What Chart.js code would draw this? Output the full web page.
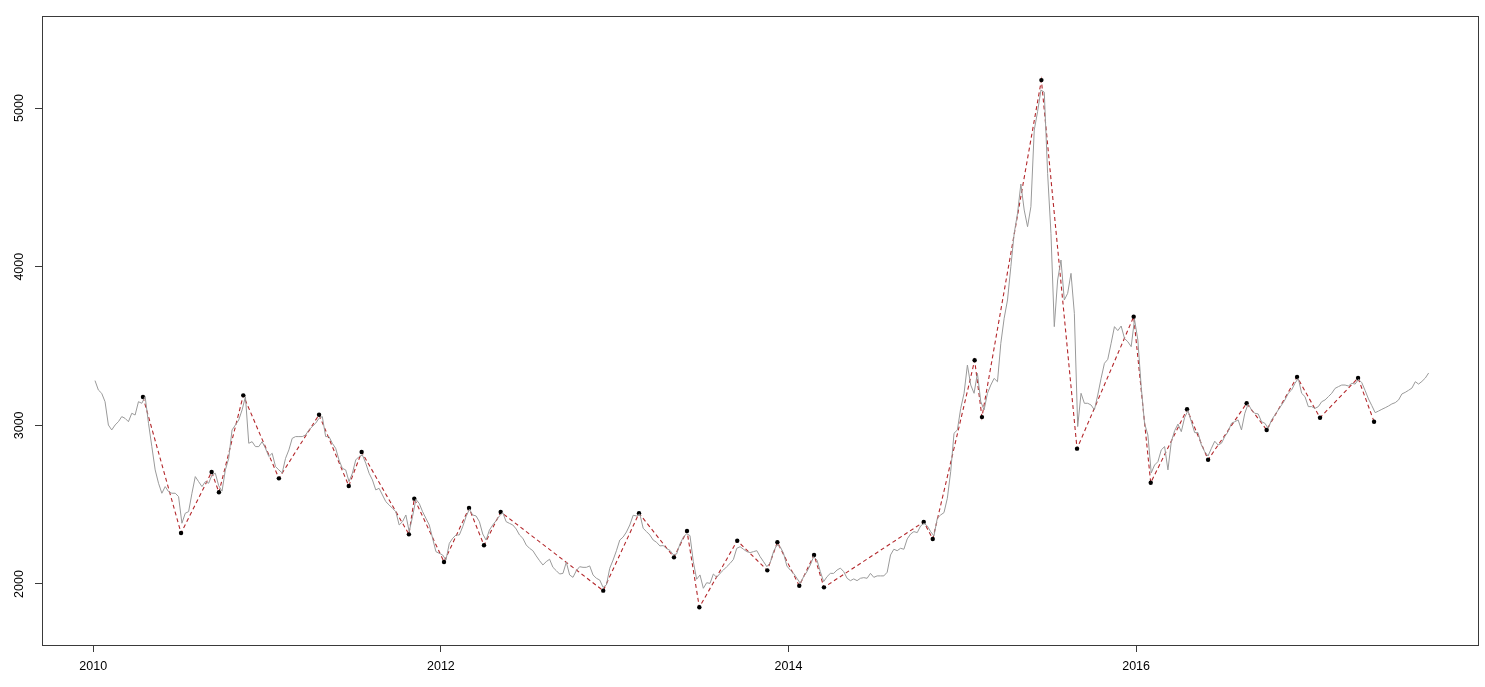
<!DOCTYPE html>
<html>
<head>
<meta charset="utf-8">
<script src="https://cdn.jsdelivr.net/npm/chart.js@4"></script>
<style>
  html, body { margin: 0; padding: 0; background: #fff; }
  #wrap { width: 1485px; height: 687px; position: relative; }
</style>
</head>
<body>
<div id="wrap"><canvas id="chart"></canvas></div>
<script>
// weekly closes (first week of 2010 onwards)
const startYear = 2010.01;
const weekStep = 1 / 52;
const weeklyClose = [
  3282, 3223, 3202, 3149, 3002, 2971, 3002, 3023, 3055, 3044,
  3023, 3076, 3065, 3149, 3139, 3181, 3013, 2866, 2719, 2635,
  2572, 2614, 2582, 2572, 2572, 2551, 2383, 2446, 2456, 2572,
  2677, 2645, 2614, 2645, 2635, 2687, 2698, 2620, 2585, 2719,
  2792, 2971, 3002, 3034, 3097, 3181, 2887, 2897, 2866, 2866,
  2897, 2855, 2803, 2824, 2740, 2719, 2700, 2792, 2845, 2918,
  2929, 2929, 2929, 2939, 2971, 2992, 3013, 3044, 3055, 2929,
  2929, 2887, 2855, 2782, 2729, 2719, 2645, 2698, 2782, 2803,
  2813, 2761, 2698, 2656, 2593, 2603, 2561, 2519, 2498, 2477,
  2456, 2372, 2393, 2435, 2330, 2425, 2534, 2508, 2456, 2414,
  2372, 2288, 2204, 2193, 2183, 2151, 2256, 2288, 2309, 2309,
  2361, 2424, 2471, 2435, 2429, 2393, 2315, 2277, 2340, 2372,
  2399, 2429, 2450, 2393, 2382, 2372, 2347, 2309, 2288, 2246,
  2225, 2210, 2177, 2147, 2120, 2141, 2156, 2105, 2084, 2063,
  2067, 2137, 2057, 2042, 2084, 2109, 2105, 2105, 2114, 2057,
  2036, 2025, 1979, 1994, 2099, 2151, 2210, 2277, 2296, 2328,
  2372, 2433, 2429, 2441, 2351, 2330, 2309, 2277, 2263, 2240,
  2242, 2223, 2212, 2185, 2189, 2252, 2294, 2317, 2305, 2141,
  2030, 2057, 1973, 2008, 2004, 2063, 2042, 2067, 2088, 2109,
  2130, 2155, 2225, 2235, 2219, 2204, 2198, 2204, 2210, 2172,
  2141, 2109, 2134, 2204, 2246, 2235, 2193, 2113, 2088, 2067,
  2036, 2004, 2046, 2078, 2120, 2172, 2151, 2078, 2015, 2046,
  2067, 2067, 2088, 2100, 2078, 2036, 2021, 2032, 2021, 2036,
  2040, 2036, 2067, 2042, 2051, 2051, 2051, 2074, 2183, 2219,
  2210, 2225, 2219, 2284, 2315, 2330, 2324, 2366, 2382, 2366,
  2330, 2303, 2414, 2435, 2450, 2540, 2708, 2950, 2971, 3107,
  3202, 3380, 3254, 3202, 3328, 3150, 3097, 3202, 3254, 3296,
  3275, 3517, 3675, 3790, 4000, 4210, 4336, 4521, 4357, 4252,
  4378, 4861, 4977, 5113, 5100, 4588, 4210, 3622, 3916, 4042,
  3790, 3832, 3958, 3706, 2992, 3202, 3139, 3139, 3128, 3097,
  3191, 3296, 3391, 3416, 3517, 3622, 3597, 3626, 3548, 3527,
  3496, 3668, 3538, 3244, 3013, 2939, 2700, 2750, 2771, 2845,
  2866, 2719, 2897, 2966, 3008, 2960, 3050, 3093, 3023, 2954,
  2954, 2876, 2834, 2807, 2855, 2900, 2876, 2887, 2929, 2960,
  3013, 3023, 3034, 2971, 3076, 3135, 3097, 3076, 3072, 3023,
  3013, 2981, 3034, 3065, 3097, 3128, 3160, 3202, 3223, 3265,
  3296, 3202, 3181, 3118, 3118, 3107, 3118, 3149, 3160, 3181,
  3202, 3233, 3244, 3254, 3254, 3248, 3265, 3260, 3290, 3269,
  3219, 3166, 3124, 3080, 3090, 3101, 3111, 3122, 3135, 3143,
  3160, 3198, 3208, 3221, 3235, 3275, 3260, 3277, 3298, 3330
];

// turning points (black dots joined by the red dashed line)
const turnYears = [
  2010.286, 2010.505, 2010.681, 2010.723, 2010.863, 2011.068, 2011.299,
  2011.470, 2011.544, 2011.816, 2011.847, 2012.018, 2012.162, 2012.248,
  2012.344, 2012.934, 2013.140, 2013.341, 2013.416, 2013.487, 2013.705,
  2013.878, 2013.936, 2014.062, 2014.147, 2014.204, 2014.778, 2014.830,
  2015.071, 2015.113, 2015.455, 2015.660, 2015.986, 2016.084, 2016.293,
  2016.414, 2016.636, 2016.751, 2016.926, 2017.058, 2017.277, 2017.369
];
const turnValues = [
  3179, 2321, 2706, 2578, 3189, 2666, 3067,
  2618, 2832, 2313, 2538, 2139, 2479, 2244,
  2454, 1958, 2446, 2168, 2334, 1853, 2273,
  2086, 2263, 1989, 2183, 1979, 2391, 2284,
  3410, 3052, 5176, 2853, 3685, 2638, 3101,
  2783, 3139, 2971, 3305, 3048, 3298, 3023
];

const xTicks = [2010, 2012, 2014, 2016];
const yTicks = [2000, 3000, 4000, 5000];

const closePoints = weeklyClose.map((v, i) => ({ x: startYear + i * weekStep, y: v }));
const turnPoints = turnYears.map((t, i) => ({ x: t, y: turnValues[i] }));

const axisColor = '#3a3a3a';
const tickFont = { family: '"Liberation Sans", Arial, sans-serif', size: 12.5 };

// R style box round the plot region
const boxPlugin = {
  id: 'box',
  afterDraw(chart) {
    const { ctx, chartArea: a } = chart;
    ctx.save();
    ctx.strokeStyle = axisColor;
    ctx.lineWidth = 1;
    ctx.strokeRect(Math.round(a.left) + 0.5, Math.round(a.top) + 0.5,
      Math.round(a.right - a.left), Math.round(a.bottom - a.top));
    ctx.restore();
  }
};

new Chart(document.getElementById('chart'), {
  type: 'line',
  data: {
    datasets: [
      {
        data: closePoints,
        borderColor: '#9a9a9a',
        borderWidth: 1,
        pointRadius: 0,
        tension: 0
      },
      {
        data: turnPoints,
        borderColor: '#b3272b',
        borderWidth: 1.1,
        borderDash: [4, 3],
        pointRadius: 2.2,
        pointBackgroundColor: '#000',
        pointBorderWidth: 0,
        tension: 0
      }
    ]
  },
  options: {
    responsive: true,
    maintainAspectRatio: false,
    animation: false,
    plugins: { legend: { display: false }, tooltip: { enabled: false } },
    layout: { padding: { top: 16, right: 7, left: 0, bottom: 0 } },
    scales: {
      x: {
        type: 'linear',
        min: 2009.705,
        max: 2017.967,
        afterBuildTicks: s => { s.ticks = xTicks.map(v => ({ value: v })); },
        afterFit: s => { s.height = 42; },
        ticks: {
          callback: v => String(v),
          color: '#000',
          font: tickFont,
          padding: 7,
          maxRotation: 0
        },
        grid: { drawOnChartArea: false, tickLength: 7, color: axisColor },
        border: { color: axisColor }
      },
      y: {
        min: 1615.5,
        max: 5580,
        afterBuildTicks: s => { s.ticks = yTicks.map(v => ({ value: v })); },
        afterFit: s => { s.width = 42; },
        ticks: {
          callback: v => String(v),
          color: '#000',
          font: tickFont,
          minRotation: 90,
          maxRotation: 90,
          crossAlign: 'center',
          padding: 2
        },
        grid: { drawOnChartArea: false, tickLength: 7, color: axisColor },
        border: { color: axisColor }
      }
    }
  },
  plugins: [boxPlugin]
});
</script>
</body>
</html>
